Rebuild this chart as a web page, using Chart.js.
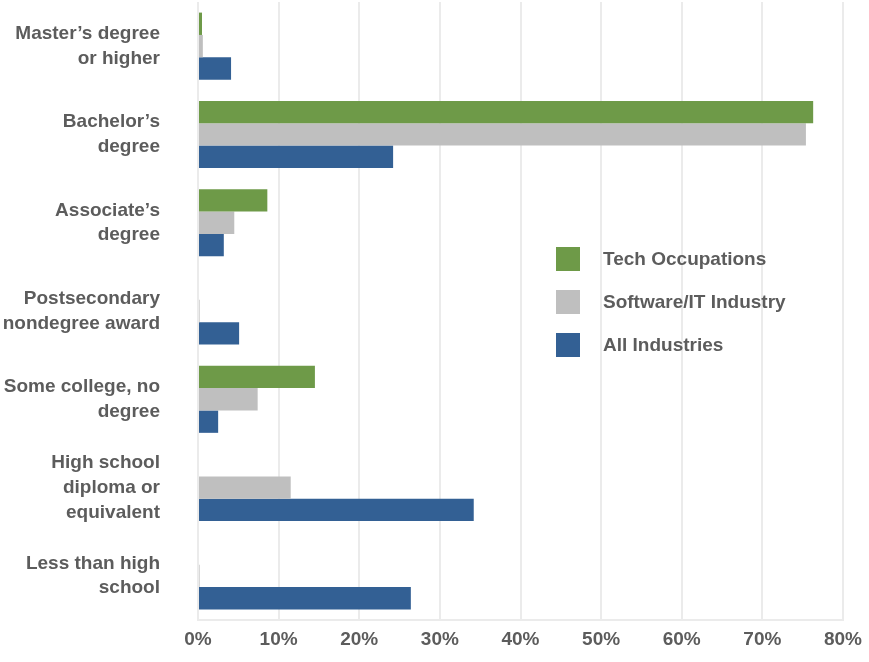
<!DOCTYPE html>
<html>
<head>
<meta charset="utf-8">
<script src="https://cdn.jsdelivr.net/npm/chart.js@4/dist/chart.umd.min.js"></script>
<style>
  body { margin: 0; background: #fff; }
  #wrap { position: relative; width: 869px; height: 662px; }
</style>
</head>
<body>
<div id="wrap"><canvas id="barChart"></canvas></div>
<script>
const categories = [
  ["Master\u2019s degree", "or higher"],
  ["Bachelor\u2019s", "degree"],
  ["Associate\u2019s", "degree"],
  ["Postsecondary", "nondegree award"],
  ["Some college, no", "degree"],
  ["High school", "diploma or", "equivalent"],
  ["Less than high", "school"]
];
const seriesNames = ["Tech Occupations", "Software/IT Industry", "All Industries"];
const techOccupations = [0.5, 76.3, 8.6, 0, 14.5, 0, 0];
const softwareIT = [0.6, 75.4, 4.5, 0.2, 7.4, 11.5, 0.2];
const allIndustries = [4.1, 24.2, 3.2, 5.1, 2.5, 34.2, 26.4];
const xTicks = [0, 10, 20, 30, 40, 50, 60, 70, 80];

const colors = ["#6e9a48", "#bfbfbf", "#336094"];
const textColor = "#5c5c5c";
const fontFamily = "'Liberation Sans Narrow', 'Arial Narrow', 'Liberation Sans', sans-serif";

// legend drawn inside the plot, like the original
const insideLegend = {
  id: "insideLegend",
  afterDraw(chart) {
    const ctx = chart.ctx;
    ctx.save();
    ctx.font = "bold 19px " + fontFamily;
    ctx.textBaseline = "middle";
    chart.data.datasets.forEach((ds, i) => {
      const y = 259 + i * 43;
      ctx.fillStyle = ds.backgroundColor;
      ctx.fillRect(556, y - 12, 24, 24);
      ctx.fillStyle = textColor;
      ctx.fillText(ds.label, 603, y + 1);
    });
    ctx.restore();
  }
};

const ctx = document.getElementById("barChart");
new Chart(ctx, {
  type: "bar",
  data: {
    labels: categories,
    datasets: [
      { label: seriesNames[0], data: techOccupations, backgroundColor: colors[0] },
      { label: seriesNames[1], data: softwareIT, backgroundColor: colors[1] },
      { label: seriesNames[2], data: allIndustries, backgroundColor: colors[2] }
    ]
  },
  options: {
    indexAxis: "y",
    responsive: true,
    maintainAspectRatio: false,
    animation: false,
    layout: { padding: { top: 2, right: 26, left: 0, bottom: 0 } },
    datasets: { bar: { categoryPercentage: 0.76, barPercentage: 1.0 } },
    plugins: {
      legend: { display: false },
      tooltip: { enabled: false }
    },
    scales: {
      x: {
        min: 0,
        max: 80,
        afterBuildTicks: (scale) => { scale.ticks = xTicks.map(v => ({ value: v })); },
        afterFit: (scale) => {
          scale.height = 42;
          scale.paddingLeft = 0;
          scale.paddingRight = 0;
        },
        ticks: {
          callback: (v) => v + "%",
          color: textColor,
          font: { family: fontFamily, size: 19, weight: "bold" },
          padding: 8,
          maxRotation: 0
        },
        grid: { color: "#ebebeb", lineWidth: 2, drawTicks: false },
        border: { color: "#ebebeb", width: 2 }
      },
      y: {
        afterFit: (scale) => {
          scale.width = 198;
          scale.paddingTop = 0;
          scale.paddingBottom = 0;
        },
        ticks: {
          color: textColor,
          font: { family: fontFamily, size: 19, weight: "bold", lineHeight: 1.3 },
          padding: 38
        },
        grid: { display: false, drawTicks: false },
        border: { display: false }
      }
    }
  },
  plugins: [insideLegend]
});
</script>
</body>
</html>
